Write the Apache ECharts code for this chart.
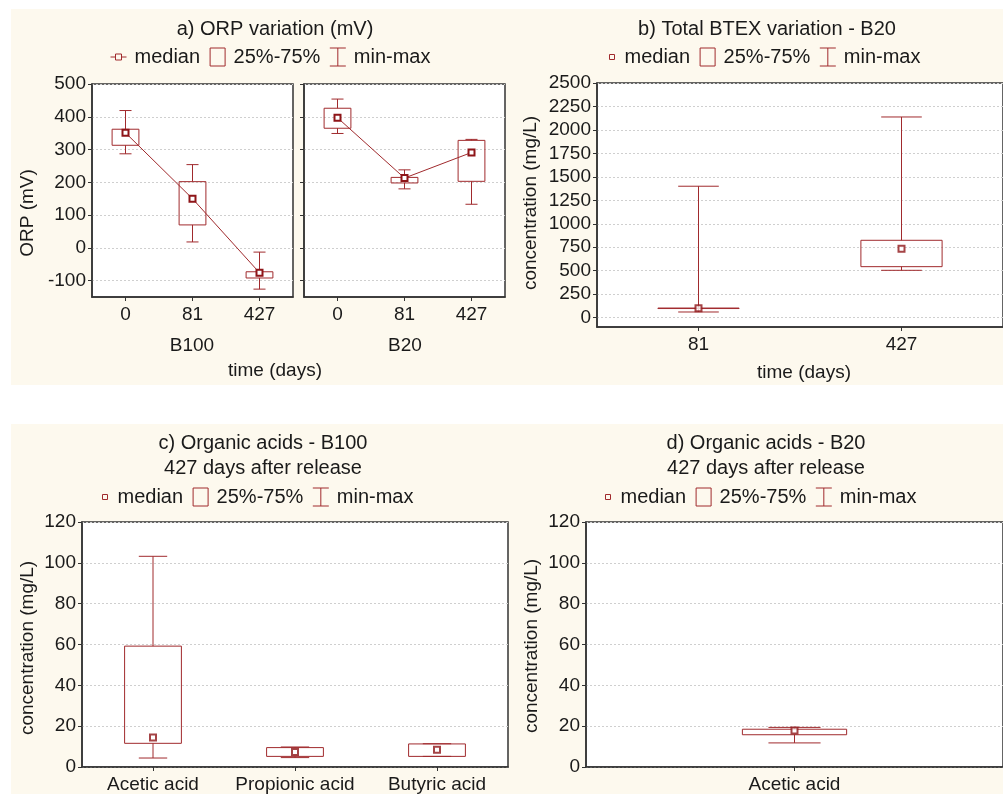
<!DOCTYPE html>
<html>
<head>
<meta charset="utf-8">
<script src="https://cdn.jsdelivr.net/npm/echarts@6/dist/echarts.min.js"></script>
<style>
html, body { margin: 0; padding: 0; background: #fff; }
#wrap { position: relative; width: 1003px; height: 794px; overflow: hidden; }
.panel { position: absolute; background: #fdf9ee; }
#chart { position: absolute; left: 0; top: 0; width: 1003px; height: 794px; }
</style>
</head>
<body>
<div id="wrap">
	<div class="panel" style="left:11px;top:9px;width:992px;height:376px"></div>
	<div class="panel" style="left:11px;top:424px;width:992px;height:370px"></div>
	<div id="chart"></div>
</div>
<script>
// a) ORP (mV), B100 and B20
var orpDays = ['0', '81', '427'];
var orpB100Min = [287, 18, -126];
var orpB100Q1 = [313, 70, -92];
var orpB100Med = [351, 150, -76];
var orpB100Q3 = [362, 202, -73];
var orpB100Max = [419, 254, -13];
var orpB20Min = [349, 180, 133];
var orpB20Q1 = [365, 198, 203];
var orpB20Med = [397, 213, 291];
var orpB20Q3 = [426, 215, 328];
var orpB20Max = [454, 238, 331];
var orpTicks = [-100, 0, 100, 200, 300, 400, 500];

// b) total BTEX - B20
var btexDays = ['81', '427'];
var btexMin = [60, 504];
var btexQ1 = [97, 543];
var btexMed = [100, 735];
var btexQ3 = [102, 824];
var btexMax = [1400, 2138];
var btexTicks = [0, 250, 500, 750, 1000, 1250, 1500, 1750, 2000, 2250, 2500];

// c) organic acids - B100
var acidsB100 = ['Acetic acid', 'Propionic acid', 'Butyric acid'];
var acidB100Min = [4.4, 4.6, 5.2];
var acidB100Q1 = [11.6, 5.2, 5.2];
var acidB100Med = [14.4, 7.4, 8.4];
var acidB100Q3 = [59.2, 9.5, 11.3];
var acidB100Max = [103.2, 9.8, 11.4];

// d) organic acids - B20
var acidsB20 = ['Acetic acid'];
var acidB20Min = [11.8];
var acidB20Q1 = [15.8];
var acidB20Med = [17.9];
var acidB20Q3 = [18.5];
var acidB20Max = [19.4];
var acidTicks = [0, 20, 40, 60, 80, 100, 120];

var RED = '#a02a2d';
var MARK = '#8e1518';
var INK = '#1a1a1a';
var FONT = '"Liberation Sans", Arial, sans-serif';

//拼成 [序号, min, q1, median, q3, max]
function rows(mn, q1, md, q3, mx)
{
	return mn.map(function(v, i) {
		return [i, v, q1[i], md[i], q3[i], mx[i]];
	});
}

//须线 + 端帽
function whiskerItem(capRatio)
{
	return function(params, api) {
		var i = api.value(0);
		var half = api.size([1, 0])[0] * capRatio / 2;
		var pMin = api.coord([i, api.value(1)]);
		var pQ1 = api.coord([i, api.value(2)]);
		var pQ3 = api.coord([i, api.value(4)]);
		var pMax = api.coord([i, api.value(5)]);
		var st = {stroke: RED, lineWidth: 1, fill: null};
		return {
			type: 'group',
			children: [
				{type: 'line', shape: {x1: pMin[0], y1: pMin[1], x2: pQ1[0], y2: pQ1[1]}, style: st},
				{type: 'line', shape: {x1: pQ3[0], y1: pQ3[1], x2: pMax[0], y2: pMax[1]}, style: st},
				{type: 'line', shape: {x1: pMin[0] - half, y1: pMin[1], x2: pMin[0] + half, y2: pMin[1]}, style: st},
				{type: 'line', shape: {x1: pMax[0] - half, y1: pMax[1], x2: pMax[0] + half, y2: pMax[1]}, style: st}
			]
		};
	};
}

//25%-75% 方框
function boxItem(ratio)
{
	return function(params, api) {
		var i = api.value(0);
		var w = api.size([1, 0])[0] * ratio;
		var p1 = api.coord([i, api.value(2)]);
		var p3 = api.coord([i, api.value(4)]);
		return {
			type: 'rect',
			shape: {x: p1[0] - w / 2, y: p3[1], width: w, height: Math.max(p1[1] - p3[1], 0.5)},
			style: {fill: 'none', stroke: RED, lineWidth: 1}
		};
	};
}

function panelSeries(gi, data, med, boxRatio, capRatio, joinMedians)
{
	return [
		{
			name: 'min-max', type: 'custom', xAxisIndex: gi, yAxisIndex: gi, silent: true,
			renderItem: whiskerItem(capRatio), encode: {x: 0, y: [1, 2, 3, 4, 5]}, data: data, z: 2
		},
		{
			name: '25%-75%', type: 'custom', xAxisIndex: gi, yAxisIndex: gi, silent: true,
			renderItem: boxItem(boxRatio), encode: {x: 0, y: [1, 2, 3, 4, 5]}, data: data, z: 3
		},
		{
			name: 'median', type: joinMedians ? 'line' : 'scatter', xAxisIndex: gi, yAxisIndex: gi, silent: true,
			data: med, symbol: 'emptyRect', symbolSize: 6, z: 4,
			itemStyle: {color: MARK, borderWidth: 1},
			lineStyle: {color: RED, width: 1}
		}
	];
}

function catAxis(gi, cats)
{
	return {
		type: 'category', gridIndex: gi, data: cats,
		axisLine: {show: true, onZero: false, lineStyle: {color: '#333', width: 1.5}},
		axisTick: {show: true, alignWithLabel: true, length: 4, lineStyle: {color: '#333'}},
		axisLabel: {interval: 0, fontSize: 19, color: INK, fontFamily: FONT, margin: 8},
		splitLine: {show: false}
	};
}

function valAxis(gi, min, max, ticks, showLabels)
{
	return {
		type: 'value', gridIndex: gi, min: min, max: max,
		axisLine: {show: true, onZero: false, lineStyle: {color: '#333', width: 1.5}},
		axisTick: {show: true, length: 4, customValues: ticks, lineStyle: {color: '#333'}},
		axisLabel: {
			show: showLabels, customValues: ticks, fontSize: 19, color: INK, fontFamily: FONT, margin: 6,
			formatter: function(v) { return String(v); }
		},
		splitLine: {show: true, lineStyle: {color: '#cfcfcf', type: [2, 2], width: 1}}
	};
}

function gridBox(left, top, width, height)
{
	return {
		left: left, top: top, width: width, height: height, show: true,
		backgroundColor: '#fff', borderColor: '#333', borderWidth: 1.5
	};
}

function label(text, x, y, size, rotate)
{
	return {
		type: 'text', x: x, y: y, rotation: rotate ? Math.PI / 2 : 0, silent: true,
		style: {text: text, fill: INK, font: size + 'px ' + FONT, align: 'center', verticalAlign: 'middle', lineHeight: 25}
	};
}

var icons = {
	medianLine: 'path://M0,0M16,19M0,9.5L5,9.5M5,6.5L11,6.5L11,12.5L5,12.5ZM11,9.5L16,9.5',
	medianDot: 'path://M0,0M16,19M9,7L14,7L14,12L9,12Z',
	box: 'path://M0,0M16,19M0.5,0.5L15.5,0.5L15.5,18.5L0.5,18.5Z',
	range: 'path://M0,0M16,19M0,0.5L16,0.5M8,0.5L8,18.5M0,18.5L16,18.5'
};

function legendAt(left, top, medianIcon)
{
	return {
		left: left, top: top, padding: 0, itemWidth: 16, itemHeight: 19, itemGap: 9,
		selectedMode: false,
		itemStyle: {color: 'rgba(0,0,0,0)', borderColor: RED, borderWidth: 1},
		textStyle: {fontSize: 20, color: INK, fontFamily: FONT, padding: [0, 0, 0, 3]},
		data: [
			{name: 'median', icon: medianIcon},
			{name: '25%-75%', icon: icons.box},
			{name: 'min-max', icon: icons.range}
		]
	};
}

var chart = echarts.init(document.getElementById('chart'));
var option = {
	animation: false,
	backgroundColor: 'transparent',
	textStyle: {fontFamily: FONT},
	grid: [
		gridBox(92, 84, 201, 213),
		gridBox(304, 84, 201, 213),
		gridBox(597, 83, 416, 244),
		gridBox(82, 522, 426, 247),
		gridBox(586, 522, 426, 247)
	],
	xAxis: [
		catAxis(0, orpDays),
		catAxis(1, orpDays),
		catAxis(2, btexDays),
		catAxis(3, acidsB100),
		catAxis(4, acidsB20)
	],
	yAxis: [
		valAxis(0, -150, 500, orpTicks, true),
		valAxis(1, -150, 500, orpTicks, false),
		valAxis(2, -100, 2500, btexTicks, true),
		valAxis(3, 0, 120, acidTicks, true),
		valAxis(4, 0, 120, acidTicks, true)
	],
	legend: [
		legendAt(110, 47, icons.medianLine),
		legendAt(600, 47, icons.medianDot),
		legendAt(93, 487, icons.medianDot),
		legendAt(596, 487, icons.medianDot)
	],
	graphic: {
		elements: [
			label('a) ORP variation (mV)', 275, 29, 20),
			label('b) Total BTEX variation - B20', 767, 29, 20),
			label('c) Organic acids - B100\n427 days after release', 263, 456, 20),
			label('d) Organic acids - B20\n427 days after release', 766, 456, 20),
			label('ORP (mV)', 28, 213, 19, true),
			label('concentration (mg/L)', 531, 203, 19, true),
			label('concentration (mg/L)', 28, 648, 19, true),
			label('concentration (mg/L)', 532, 646, 19, true),
			label('B100', 192, 346, 19),
			label('B20', 405, 346, 19),
			label('time (days)', 275, 371, 19),
			label('time (days)', 804, 373, 19)
		]
	},
	series: [].concat(
		panelSeries(0, rows(orpB100Min, orpB100Q1, orpB100Med, orpB100Q3, orpB100Max), orpB100Med, 0.4, 0.18, true),
		panelSeries(1, rows(orpB20Min, orpB20Q1, orpB20Med, orpB20Q3, orpB20Max), orpB20Med, 0.4, 0.18, true),
		panelSeries(2, rows(btexMin, btexQ1, btexMed, btexQ3, btexMax), btexMed, 0.4, 0.2, false),
		panelSeries(3, rows(acidB100Min, acidB100Q1, acidB100Med, acidB100Q3, acidB100Max), acidB100Med, 0.4, 0.2, false),
		panelSeries(4, rows(acidB20Min, acidB20Q1, acidB20Med, acidB20Q3, acidB20Max), acidB20Med, 0.25, 0.125, false)
	)
};
chart.setOption(option);
</script>
</body>
</html>
